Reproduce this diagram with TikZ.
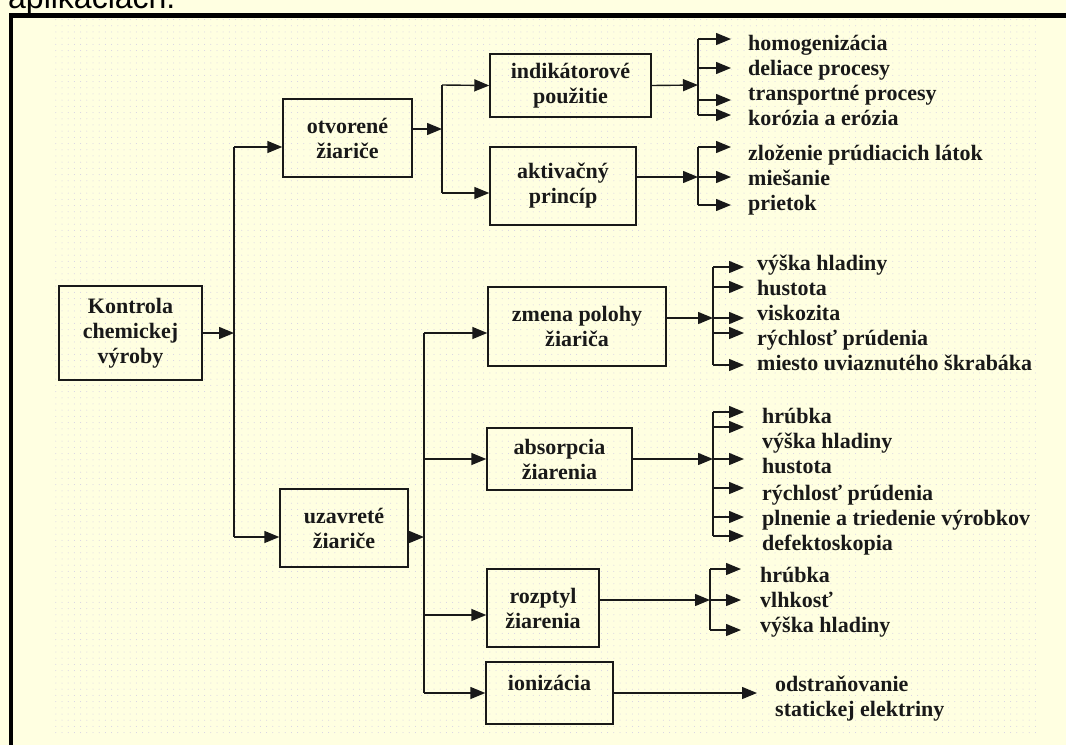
\documentclass[tikz,border=0pt]{standalone}
\usepackage{fontspec}
\setmainfont{Liberation Serif}
\newfontfamily\arialf{Liberation Sans}
\usetikzlibrary{arrows.meta,patterns.meta,calc}
\definecolor{bgc}{RGB}{255,255,225}
\definecolor{dotc}{RGB}{210,205,228}
\definecolor{inkc}{RGB}{25,25,25}
\newcommand{\boxfont}{\fontsize{22}{25}\selectfont\bfseries}
\tikzset{
  box/.style={draw=inkc, line width=1.4pt, inner sep=0pt, align=center, font=\boxfont, text=inkc},
  lbl/.style={anchor=west, inner sep=0pt, font=\boxfont, text=inkc, text height=15pt, text depth=5pt},
  arr/.style={draw=inkc, line width=1.4pt, -{Triangle[length=15pt,width=12pt]}},
  ln/.style={draw=inkc, line width=1.4pt},
}
\begin{document}
\begin{tikzpicture}[x=1pt,y=-1pt]
\useasboundingbox (0,0) rectangle (1066,745);
\clip (0,0) rectangle (1066,745);
\fill[bgc] (0,0) rectangle (1066,745);
\fill[pattern={Dots[distance=6.2pt,radius=0.5pt]}, pattern color=dotc] (55,17) rectangle (1036,735);
\node[anchor=base west, inner sep=0pt, font=\arialf\fontsize{32}{38}\selectfont] (top) at (8,8) {aplikáciách.};
\fill[black] (9,13) rectangle (1066,18);
\fill[black] (9,13) rectangle (13,745);

% main boxes
\node[box, minimum width=143pt, minimum height=94pt] (kon) at (130.5,333) {Kontrola\\chemickej\\výroby};
\node[box, minimum width=129pt, minimum height=78pt] (otv) at (347.5,138) {otvorené\\žiariče};
\node[box, minimum width=128pt, minimum height=78pt] (uza) at (344,528) {uzavreté\\žiariče};
\node[box, minimum width=161pt, minimum height=63pt] (ind) at (570.5,85.5) {indikátorové\\použitie};
\node[box, minimum width=146pt, minimum height=78pt] (akt) at (563,186) {aktivačný\\princíp};
\node[box, minimum width=178pt, minimum height=79pt] (zme) at (577,326.5) {zmena polohy\\žiariča};
\node[box, minimum width=145pt, minimum height=62pt] (abs) at (559.5,459) {absorpcia\\žiarenia};
\node[box, minimum width=112pt, minimum height=78pt] (roz) at (543,608) {rozptyl\\žiarenia};
\node[box, minimum width=127pt, minimum height=62pt, text height=15pt, text depth=21pt] (ion) at (549.5,693) {ionizácia};

% trunk A
\coordinate (jA) at (234,333);
\coordinate (jAt) at (234,147);
\coordinate (jAb) at (234,537);
\draw[arr] (kon.east) -- (jA);
\draw[ln] (jAt) -- (jAb);
\draw[arr] (jAt) -- ([yshift=-9pt]otv.west);
\draw[arr] (jAb) -- ([yshift=-9pt]uza.west);

% trunk B
\coordinate (jB) at (442,129);
\coordinate (jBt) at (442,85);
\coordinate (jBb) at (442,193);
\draw[arr] ([yshift=9pt]otv.east) -- (jB);
\draw[ln] (jBt) -- (jBb);
\draw[arr] (jBt) -- (ind.west);
\draw[arr] (jBb) -- ([yshift=-7pt]akt.west);

% trunk C
\coordinate (jC) at (424,537);
\coordinate (jCt) at (424,333);
\coordinate (jCm1) at (424,459);
\coordinate (jCm2) at (424,615);
\coordinate (jCb) at (424,693);
\draw[arr] ([yshift=-9pt]uza.east) -- (jC);
\draw[ln] (jCt) -- (jCb);
\draw[arr] (jCt) -- ([yshift=-6.5pt]zme.west);
\draw[arr] (jCm1) -- (abs.west);
\draw[arr] (jCm2) -- ([yshift=-7pt]roz.west);
\draw[arr] (jCb) -- (ion.west);

% group 1 (indikatorove)
\node[lbl] (g1a) at (748,45) {homogenizácia};
\node[lbl] (g1b) at (748,70) {deliace procesy};
\node[lbl] (g1c) at (748,95) {transportné procesy};
\node[lbl] (g1d) at (748,120) {korózia a erózia};
\coordinate (s1) at (698,85);
\draw[arr] (ind.east) -- (s1);
\draw[ln] (698,39) -- (698,115);
\foreach \yy in {39,68,100,115} \draw[arr] (698,\yy) -- (731,\yy);

% group 2 (aktivacny)
\node[lbl] (g2a) at (748,155) {zloženie prúdiacich látok};
\node[lbl] (g2b) at (748,180) {miešanie};
\node[lbl] (g2c) at (748,205) {prietok};
\coordinate (s2) at (698,177);
\draw[arr] ([yshift=9pt]akt.east) -- (s2);
\draw[ln] (698,147) -- (698,205);
\foreach \yy in {147,177,205} \draw[arr] (698,\yy) -- (731,\yy);

% group 3 (zmena polohy)
\node[lbl] (g3a) at (757,265) {výška hladiny};
\node[lbl] (g3b) at (757,290) {hustota};
\node[lbl] (g3c) at (757,315) {viskozita};
\node[lbl] (g3d) at (757,340) {rýchlosť prúdenia};
\node[lbl] (g3e) at (757,365) {miesto uviaznutého škrabáka};
\coordinate (s3) at (713,318);
\draw[arr] ([yshift=8.5pt]zme.east) -- (s3);
\draw[ln] (713,267) -- (713,365);
\foreach \yy in {267,287,318,333,365} \draw[arr] (713,\yy) -- (744,\yy);

% group 4 (absorpcia)
\node[lbl] (g4a) at (762,418) {hrúbka};
\node[lbl] (g4b) at (762,443) {výška hladiny};
\node[lbl] (g4c) at (762,468) {hustota};
\node[lbl] (g4d) at (762,495) {rýchlosť prúdenia};
\node[lbl] (g4e) at (762,520) {plnenie a triedenie výrobkov};
\node[lbl] (g4f) at (762,545) {defektoskopia};
\coordinate (s4) at (713,459);
\draw[arr] (abs.east) -- (s4);
\draw[ln] (713,412) -- (713,536);
\foreach \yy in {412,427,459,488,517,536} \draw[arr] (713,\yy) -- (744,\yy);

% group 5 (rozptyl)
\node[lbl] (g5a) at (760,577) {hrúbka};
\node[lbl] (g5b) at (760,602) {vlhkosť};
\node[lbl] (g5c) at (760,627) {výška hladiny};
\coordinate (s5) at (710,600);
\draw[arr] ([yshift=8pt]roz.east) -- (s5);
\draw[ln] (710,569) -- (710,630);
\foreach \yy in {569,600,630} \draw[arr] (710,\yy) -- (741,\yy);

% group 6 (ionizacia)
\node[lbl, align=left, text height=, text depth=] (g6) at (775,699) {odstraňovanie\\statickej elektriny};
\coordinate (s6) at (757,693);
\draw[arr] (ion.east) -- (s6);
\end{tikzpicture}
\end{document}
